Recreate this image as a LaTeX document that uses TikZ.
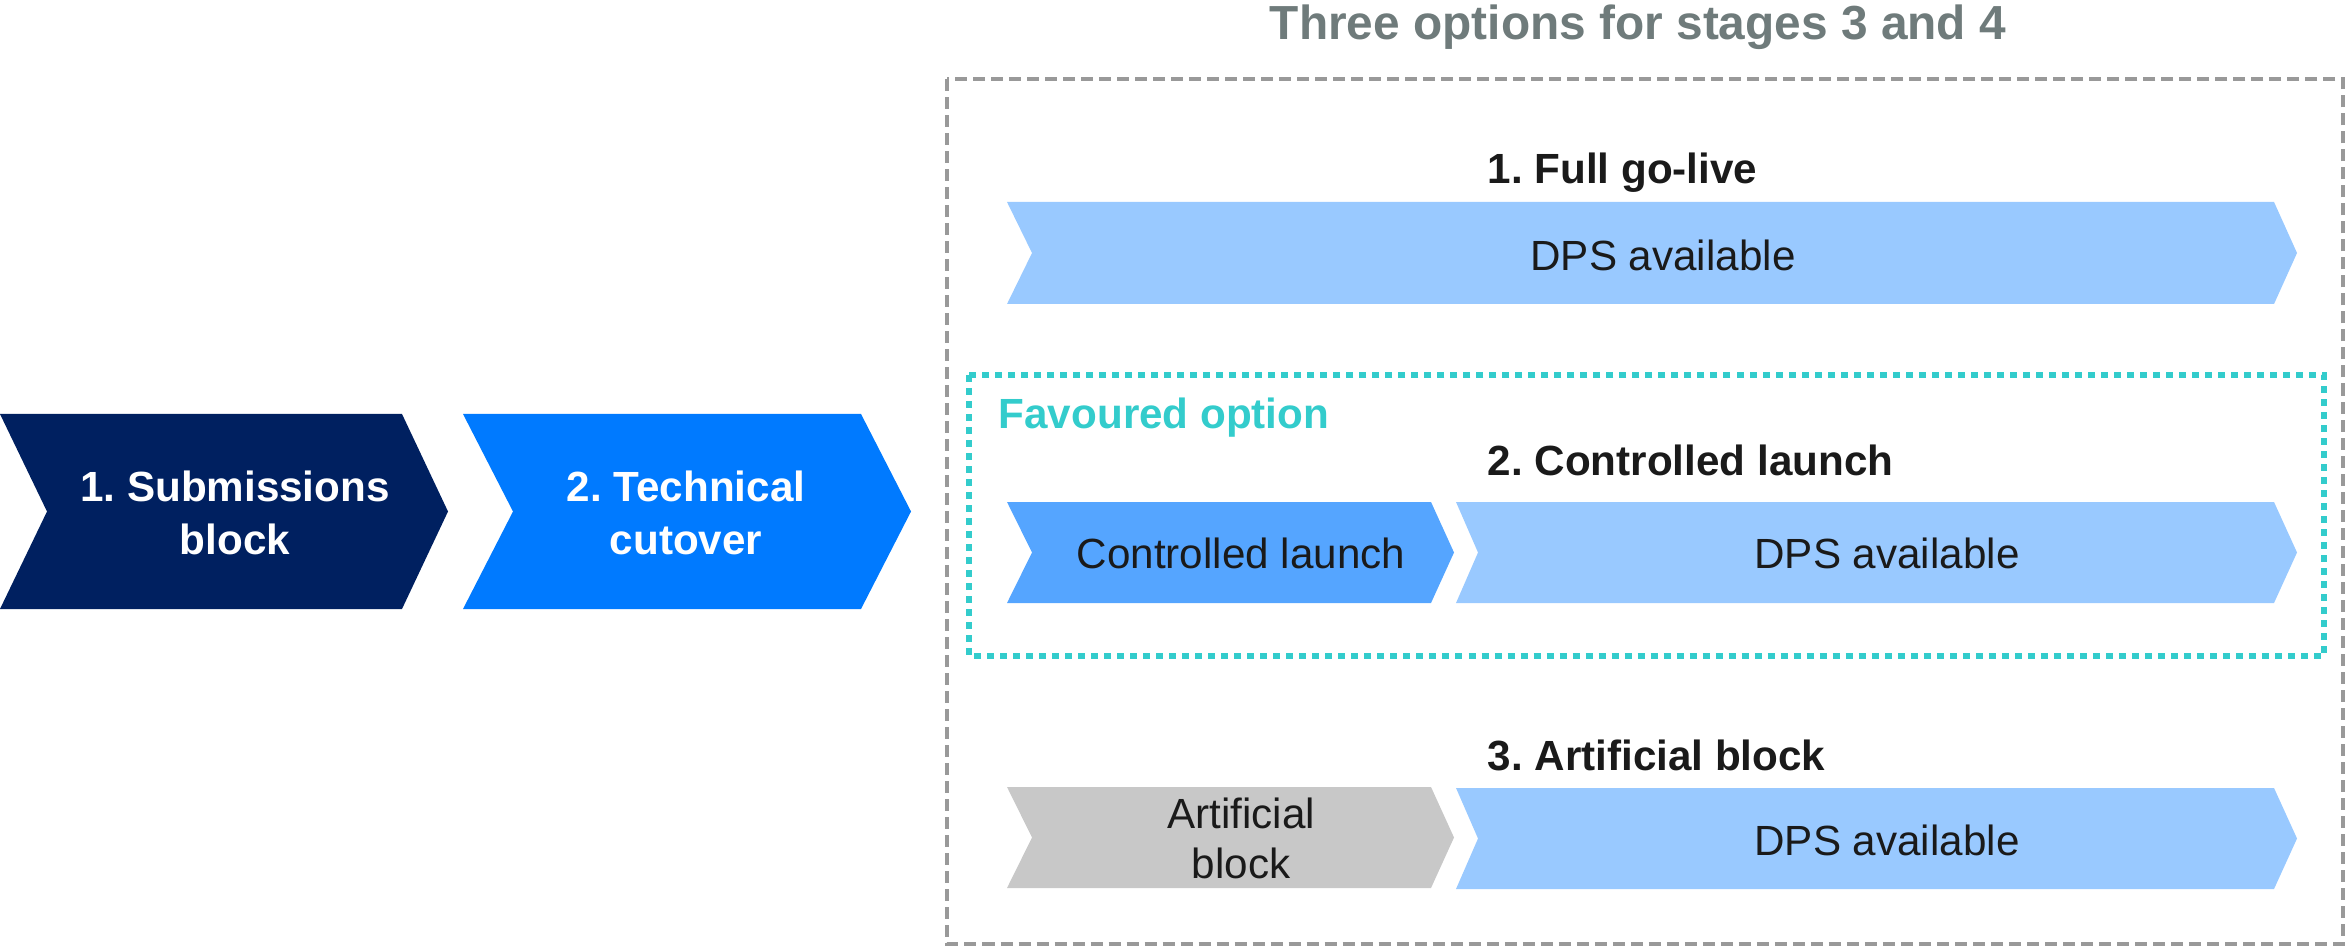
\documentclass[tikz,border=0pt]{standalone}
\usepackage{fontspec}
\setmainfont{Liberation Sans}
\frenchspacing
\definecolor{navy}{HTML}{002060}
\definecolor{bblue}{HTML}{007AFF}
\definecolor{mblue}{HTML}{55A5FF}
\definecolor{lblue}{HTML}{99C9FF}
\definecolor{lgrey}{HTML}{C8C8C8}
\definecolor{favteal}{HTML}{33CCCC}
\definecolor{slate}{HTML}{6F7B7B}
\definecolor{boxgrey}{HTML}{999999}
\definecolor{ink}{HTML}{1A1A1A}
\tikzset{stagetext/.style = {text=white, font=\fontsize{12}{15}\selectfont\bfseries, align=center}}
\tikzset{chevtext/.style = {text=ink, font=\fontsize{12}{14.2}\selectfont, align=center}}
\tikzset{optheading/.style = {text=ink, font=\fontsize{12}{14}\selectfont\bfseries, anchor=west, inner sep=0pt}}
% name, left, notch, body end, tip, top, bottom, colour
\newcommand{\stagechev}[8]{%
  \fill [#8] (#2, #6) -- (#4, #6) -- (#5, {(#6+#7)/2}) -- (#4, #7) -- (#2, #7) -- (#3, {(#6+#7)/2}) -- cycle;
  \coordinate (#1) at ({(#2+#5)/2}, {(#6+#7)/2});
}

\begin{document}
\begin{tikzpicture}[x=0.01cm, y=-0.01cm]
    \useasboundingbox (0, 0) rectangle (2346, 946);

    \stagechev{subm}{0}{47}{402}{448}{414}{609}{navy}
    \stagechev{tech}{463}{513}{861}{911}{414}{609}{bblue}
    \node [stagetext] (submtext) at (235, 513) {1. Submissions\\block};
    \node [stagetext] (techtext) at (686, 513) {2. Technical\\cutover};

    \node [text=slate, font=\fontsize{13.6}{16}\selectfont\bfseries] (title) at (1638, 27) {Three options for stages 3 and 4};
    \draw [boxgrey, line width=1pt, dash pattern=on 0.12cm off 0.06cm] (947, 79) rectangle (2343, 944);
    \draw [favteal, line width=1.7pt, dash pattern=on 0.07cm off 0.06cm] (969, 375) rectangle (2324, 656);
    \node [text=favteal, font=\fontsize{12}{14}\selectfont\bfseries, anchor=west, inner sep=0pt] (fav) at (998, 418) {Favoured option};

    % option rows
    \node [optheading] (opt1) at (1487, 173) {1. Full go-live};
    \node [optheading] (opt2) at (1487, 460) {2. Controlled launch};
    \node [optheading] (opt3) at (1487, 755) {3. Artificial block};

    \stagechev{live}{1007}{1032}{2274}{2297}{202}{304}{lblue}
    \node [chevtext] (livetext) at (1663, 255) {DPS available};

    \stagechev{ctrl}{1007}{1032}{1431}{1454}{502}{603}{mblue}
    \stagechev{ctrldps}{1456}{1478}{2274}{2297}{502}{603}{lblue}
    \node [chevtext] (ctrltext) at (1241, 553) {Controlled launch};
    \node [chevtext] (ctrldpstext) at (1887, 553) {DPS available};

    \stagechev{art}{1007}{1032}{1431}{1454}{787}{888}{lgrey}
    \stagechev{artdps}{1456}{1478}{2274}{2297}{788}{889}{lblue}
    \node [chevtext] (arttext) at (1241, 838) {Artificial\\block};
    \node [chevtext] (artdpstext) at (1887, 840) {DPS available};
  \end{tikzpicture}
\end{document}
